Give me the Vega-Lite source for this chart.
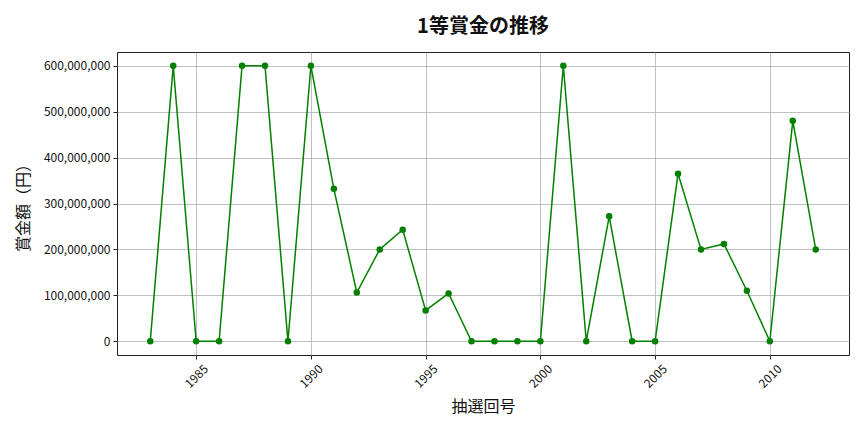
{
  "$schema": "https://vega.github.io/schema/vega-lite/v6.json",
  "description": "1等賞金の推移 by draw year",
  "autosize": "none",
  "width": 732,
  "height": 303,
  "padding": {"left": 117, "top": 52, "right": 15, "bottom": 77},
  "background": "white",
  "config": {
    "font": "Noto Sans CJK JP",
    "view": {"stroke": "#222", "strokeWidth": 1},
    "axis": {
      "domain": false,
      "grid": true,
      "gridColor": "#b0b0b0",
      "gridWidth": 0.8,
      "tickColor": "#222",
      "tickSize": 4,
      "labelColor": "#111",
      "labelFontSize": 12,
      "titleFontSize": 16,
      "titleFontWeight": "normal",
      "titleColor": "#111"
    }
  },
  "title": {
    "text": "1等賞金の推移",
    "fontSize": 20,
    "fontWeight": "bold",
    "anchor": "middle",
    "offset": 15,
    "color": "#111"
  },
  "data": {
    "values": [
      {"year": 1983, "prize": 0},
      {"year": 1984, "prize": 600000000},
      {"year": 1985, "prize": 0},
      {"year": 1986, "prize": 0},
      {"year": 1987, "prize": 600000000},
      {"year": 1988, "prize": 600000000},
      {"year": 1989, "prize": 0},
      {"year": 1990, "prize": 600000000},
      {"year": 1991, "prize": 332000000},
      {"year": 1992, "prize": 106000000},
      {"year": 1993, "prize": 200000000},
      {"year": 1994, "prize": 243000000},
      {"year": 1995, "prize": 67000000},
      {"year": 1996, "prize": 104000000},
      {"year": 1997, "prize": 0},
      {"year": 1998, "prize": 0},
      {"year": 1999, "prize": 0},
      {"year": 2000, "prize": 0},
      {"year": 2001, "prize": 600000000},
      {"year": 2002, "prize": 0},
      {"year": 2003, "prize": 272000000},
      {"year": 2004, "prize": 0},
      {"year": 2005, "prize": 0},
      {"year": 2006, "prize": 365000000},
      {"year": 2007, "prize": 200000000},
      {"year": 2008, "prize": 212000000},
      {"year": 2009, "prize": 110000000},
      {"year": 2010, "prize": 0},
      {"year": 2011, "prize": 480000000},
      {"year": 2012, "prize": 200000000}
    ]
  },
  "mark": {
    "type": "line",
    "color": "#008000",
    "strokeWidth": 1.5,
    "point": {"filled": true, "size": 42, "color": "#008000", "opacity": 1}
  },
  "encoding": {
    "x": {
      "field": "year",
      "type": "quantitative",
      "title": "抽選回号",
      "scale": {"domain": [1981.55, 2013.45], "nice": false, "zero": false},
      "axis": {
        "values": [1985, 1990, 1995, 2000, 2005, 2010],
        "format": "d",
        "labelAngle": -45,
        "labelAlign": "center",
        "labelBaseline": "middle",
        "labelPadding": 17,
        "titlePadding": 9
      }
    },
    "y": {
      "field": "prize",
      "type": "quantitative",
      "title": "賞金額（円）",
      "scale": {"domain": [-30000000, 630000000], "nice": false, "zero": false},
      "axis": {
        "values": [0, 100000000, 200000000, 300000000, 400000000, 500000000, 600000000],
        "format": ",d",
        "labelPadding": 3,
        "titlePadding": 12
      }
    }
  }
}
